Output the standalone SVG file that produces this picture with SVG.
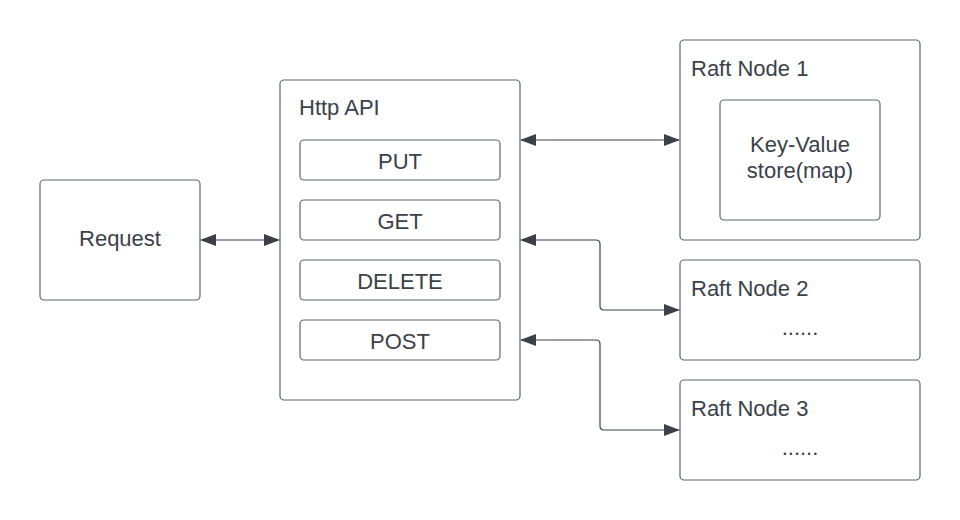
<svg xmlns="http://www.w3.org/2000/svg" width="960" height="520" viewBox="0 0 960 520">
<style>
.box{fill:#fff;stroke:#5e6670;stroke-width:1.2}
.t{font-family:"Liberation Sans",Arial,sans-serif;font-size:22px;fill:#3a414a}
.c{text-anchor:middle}
.ln{fill:none;stroke:#3a414a;stroke-width:1.2}
</style>
<defs>
<marker id="ah" markerWidth="16" markerHeight="12" refX="15" refY="6" orient="auto-start-reverse" markerUnits="userSpaceOnUse">
<path d="M0,0 L16,6 L0,12 Z" fill="#3a414a"/>
</marker>
</defs>
<rect width="960" height="520" fill="#fff"/>
<g id="request">
<rect class="box" x="40" y="180" width="160" height="120" rx="4"/>
<text class="t c" x="120" y="246">Request</text>
</g>
<g id="http-api">
<rect class="box" x="280" y="80" width="240" height="320" rx="4"/>
<text class="t" x="299" y="115">Http API</text>
</g>
<g id="put">
<rect class="box" x="300" y="140" width="200" height="40" rx="4"/>
<text class="t c" x="400" y="169">PUT</text>
</g>
<g id="get">
<rect class="box" x="300" y="200" width="200" height="40" rx="4"/>
<text class="t c" x="400" y="229">GET</text>
</g>
<g id="delete">
<rect class="box" x="300" y="260" width="200" height="40" rx="4"/>
<text class="t c" x="400" y="289">DELETE</text>
</g>
<g id="post">
<rect class="box" x="300" y="320" width="200" height="40" rx="4"/>
<text class="t c" x="400" y="349">POST</text>
</g>
<g id="raft-node-1">
<rect class="box" x="680" y="40" width="240" height="200" rx="4"/>
<text class="t" x="691" y="76">Raft Node 1</text>
</g>
<g id="kv-store">
<rect class="box" x="720" y="100" width="160" height="120" rx="4"/>
<text class="t c" x="800" y="152">Key-Value</text>
<text class="t c" x="800" y="178">store(map)</text>
</g>
<g id="raft-node-2">
<rect class="box" x="680" y="260" width="240" height="100" rx="4"/>
<text class="t" x="691" y="296">Raft Node 2</text>
<text class="t c" x="800" y="335">......</text>
</g>
<g id="raft-node-3">
<rect class="box" x="680" y="380" width="240" height="100" rx="4"/>
<text class="t" x="691" y="416">Raft Node 3</text>
<text class="t c" x="800" y="455">......</text>
</g>
<g id="connectors">
<path class="ln" d="M201,240 H279" marker-start="url(#ah)" marker-end="url(#ah)"/>
<path class="ln" d="M521,140 H679" marker-start="url(#ah)" marker-end="url(#ah)"/>
<path class="ln" d="M521,240 H596 Q600,240 600,244 V306 Q600,310 604,310 H679" marker-start="url(#ah)" marker-end="url(#ah)"/>
<path class="ln" d="M521,340 H596 Q600,340 600,344 V426 Q600,430 604,430 H679" marker-start="url(#ah)" marker-end="url(#ah)"/>
</g>
</svg>
